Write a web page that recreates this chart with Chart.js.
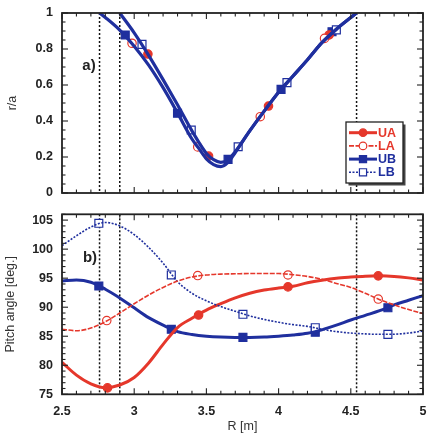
<!DOCTYPE html>
<html><head><meta charset="utf-8">
<script src="https://cdn.jsdelivr.net/npm/chart.js@4.4.1/dist/chart.umd.min.js"></script>
<style>
html,body{margin:0;padding:0;background:#fff;}
#wrap{position:relative;width:432px;height:434px;overflow:hidden;}
canvas{position:absolute;left:0;}
#c1{top:0;} #c2{top:205px;}
</style></head><body>
<div id="wrap"><canvas id="c1" width="432" height="205"></canvas><canvas id="c2" width="432" height="229"></canvas></div>
<script>
// ---------- DATA ----------
const seriesNames = ['UA', 'LA', 'UB', 'LB'];
const dottedR = [2.76, 2.9, 4.54];
const xTicks = [2.5, 3, 3.5, 4, 4.5, 5];
const topYTicks = [0, 0.2, 0.4, 0.6, 0.8, 1];
const botYTicks = [75, 80, 85, 90, 95, 100, 105];

// panel a) : r/a along the two sight-line paths
const topOuterR = [2.76, 2.8, 2.9, 3.0, 3.1, 3.2, 3.3, 3.4, 3.45, 3.5, 3.55, 3.6, 3.65, 3.7, 3.8, 3.9, 4.0, 4.1, 4.2, 4.3, 4.4, 4.5, 4.54];
const topOuterY = [1.0, 0.975, 0.905, 0.815, 0.71, 0.585, 0.445, 0.30, 0.245, 0.19, 0.158, 0.147, 0.17, 0.225, 0.345, 0.455, 0.56, 0.65, 0.74, 0.835, 0.91, 0.975, 1.0];
const topInnerR = [2.9, 3.0, 3.1, 3.2, 3.3, 3.4, 3.5, 3.55, 3.6, 3.65, 3.7, 3.8, 3.9, 4.0, 4.1, 4.2, 4.3, 4.4, 4.5, 4.54];
const topInnerY = [1.0, 0.89, 0.765, 0.63, 0.49, 0.345, 0.22, 0.185, 0.17, 0.185, 0.23, 0.345, 0.455, 0.56, 0.65, 0.74, 0.835, 0.91, 0.975, 1.0];

const topUAR = [3.095, 3.515, 3.93, 4.35];        const topUAY = [0.772, 0.205, 0.483, 0.878];
const topLAR = [2.985, 3.44, 3.873, 4.318];       const topLAY = [0.832, 0.256, 0.424, 0.859];
const topUBR = [2.938, 3.30, 3.65, 4.017, 4.37];  const topUBY = [0.878, 0.443, 0.187, 0.576, 0.896];
const topLBR = [3.054, 3.395, 3.72, 4.058, 4.40]; const topLBY = [0.826, 0.35, 0.257, 0.613, 0.906];

// panel b) : pitch angle [deg.]
const botR  = [2.5, 2.6, 2.7, 2.8, 2.9, 3.0, 3.1, 3.2, 3.3, 3.4, 3.5, 3.6, 3.7, 3.8, 3.9, 4.0, 4.1, 4.2, 4.3, 4.4, 4.5, 4.6, 4.7, 4.8, 4.9, 5.0];
const botUA = [80.5, 78.3, 76.8, 76.15, 76.6, 77.9, 80.4, 83.6, 86.5, 88.1, 89.5, 90.6, 91.6, 92.4, 92.95, 93.3, 93.6, 94.2, 94.65, 95.0, 95.2, 95.35, 95.4, 95.3, 95.05, 94.7];
const botLA = [86.2, 85.95, 86.4, 87.5, 89.0, 90.6, 92.1, 93.4, 94.5, 95.2, 95.55, 95.7, 95.75, 95.8, 95.8, 95.8, 95.6, 95.3, 94.8, 94.1, 93.4, 92.4, 91.3, 90.4, 89.6, 88.9];
const botUB = [94.5, 94.7, 94.3, 93.1, 91.6, 89.9, 88.2, 86.9, 85.8, 85.3, 85.0, 84.85, 84.8, 84.8, 84.85, 85.0, 85.2, 85.5, 86.1, 86.9, 87.8, 88.6, 89.4, 90.4, 91.2, 92.0];
const botLB = [100.6, 102.3, 103.8, 104.6, 104.0, 102.5, 100.3, 97.6, 94.4, 92.4, 91.1, 90.1, 89.3, 88.5, 87.9, 87.4, 87.0, 86.7, 86.2, 85.8, 85.55, 85.4, 85.33, 85.35, 85.55, 85.9];

const botUAR = [2.815, 3.446, 4.065, 4.69];        const botUAY = [76.1, 88.65, 93.5, 95.4];
const botLAR = [2.81, 3.44, 4.065, 4.69];          const botLAY = [87.7, 95.45, 95.55, 91.4];
const botUBR = [2.755, 3.257, 3.753, 4.254, 4.757]; const botUBY = [93.65, 86.2, 84.8, 85.68, 89.9];
const botLBR = [2.755, 3.257, 3.753, 4.254, 4.757]; const botLBY = [104.45, 95.55, 88.78, 86.47, 85.33];

// ---------- STYLE ----------
const RED = '#e5372b', BLUE = '#1f2f9e';
const FONT = 'Liberation Sans, Arial, Helvetica, sans-serif';
const sty = {
  UA: {color: RED,  width: 3,   dash: [],       point: 'circle', r: 4.2, fill: RED},
  LA: {color: RED,  width: 1.6, dash: [5, 1.5], point: 'circle', r: 4.2, fill: '#fff'},
  UB: {color: BLUE, width: 3,   dash: [],       point: 'rect',   r: 5.6, fill: BLUE},
  LB: {color: BLUE, width: 1.6, dash: [2, 1.5], point: 'rect',   r: 5.6, fill: '#fff'}
};
const zip = (a, b) => a.map((v, i) => ({x: v, y: b[i]}));
const fmt = v => String(+(+v).toFixed(3));

function lineDS(name, xs, ys, over) {
  const s = sty[name];
  return Object.assign({type: 'line', label: name, data: zip(xs, ys), borderColor: s.color, borderWidth: s.width,
    borderDash: s.dash, pointRadius: 0, cubicInterpolationMode: 'monotone', fill: false}, over || {});
}
function markDS(name, xs, ys) {
  const s = sty[name];
  return {type: 'scatter', label: name + ' pts', data: zip(xs, ys), showLine: false, pointStyle: s.point,
    pointRadius: s.r, backgroundColor: s.fill, borderColor: s.color, borderWidth: 1.2};
}

function dottedPlugin() {
  return {id: 'dotted', beforeDatasetsDraw(chart) {
    const {ctx, chartArea: a, scales: {x}} = chart;
    ctx.save(); ctx.strokeStyle = '#111'; ctx.lineWidth = 1.5; ctx.setLineDash([2, 2]);
    dottedR.forEach(r => { const p = x.getPixelForValue(r); ctx.beginPath(); ctx.moveTo(p, a.top); ctx.lineTo(p, a.bottom); ctx.stroke(); });
    ctx.restore();
  }};
}
function framePlugin(xMinor, xMajor, yMinor, yMajor) {
  return {id: 'frame', afterDatasetsDraw(chart) {
    const {ctx, chartArea: a, scales: {x, y}} = chart;
    ctx.save(); ctx.strokeStyle = '#222'; ctx.lineWidth = 1.1;
    const seg = (x1, y1, x2, y2) => { ctx.beginPath(); ctx.moveTo(x1, y1); ctx.lineTo(x2, y2); ctx.stroke(); };
    let n = Math.round((x.max - x.min) / xMinor);
    for (let i = 0; i <= n; i++) {
      const v = x.min + i * xMinor, p = x.getPixelForValue(v);
      const q = v / xMajor, L = Math.abs(q - Math.round(q)) < 1e-6 ? 6 : 3.5;
      seg(p, a.bottom, p, a.bottom - L); seg(p, a.top, p, a.top + L);
    }
    n = Math.round((y.max - y.min) / yMinor);
    for (let i = 0; i <= n; i++) {
      const v = y.min + i * yMinor, p = y.getPixelForValue(v);
      const q = v / yMajor, L = Math.abs(q - Math.round(q)) < 1e-6 ? 6 : 3.5;
      seg(a.left, p, a.left + L, p); seg(a.right, p, a.right - L, p);
    }
    ctx.lineWidth = 1.8; ctx.strokeRect(a.left, a.top, a.right - a.left, a.bottom - a.top);
    ctx.restore();
  }};
}
function textPlugin(txt, px, py) {
  return {id: 'ptext', afterDraw(chart) {
    const ctx = chart.ctx; ctx.save(); ctx.fillStyle = '#222'; ctx.font = 'bold 15px ' + FONT;
    ctx.textAlign = 'center'; ctx.textBaseline = 'middle'; ctx.fillText(txt, px, py); ctx.restore();
  }};
}
const legendPlugin = {id: 'lgd', afterDraw(chart) {
  const ctx = chart.ctx; ctx.save();
  const bx = 346, by = 122, bw = 57, bh = 61;
  ctx.fillStyle = '#444'; ctx.fillRect(bx + 2.5, by + 2.5, bw, bh);
  ctx.fillStyle = '#fff'; ctx.fillRect(bx, by, bw, bh);
  ctx.strokeStyle = '#222'; ctx.lineWidth = 1.3; ctx.strokeRect(bx, by, bw, bh);
  seriesNames.forEach((nm, i) => {
    const s = sty[nm], yy = by + 10.7 + i * 13.2;
    ctx.strokeStyle = s.color; ctx.lineWidth = s.width; ctx.setLineDash(s.dash);
    ctx.beginPath(); ctx.moveTo(bx + 3, yy); ctx.lineTo(bx + 31, yy); ctx.stroke(); ctx.setLineDash([]);
    ctx.fillStyle = s.fill; ctx.strokeStyle = s.color; ctx.lineWidth = 1.2;
    Chart.helpers.drawPoint(ctx, {pointStyle: s.point, rotation: 0, borderWidth: 1.2, radius: s.r * 0.9}, bx + 17, yy);
    ctx.fillStyle = s.color; ctx.font = 'bold 12.5px ' + FONT; ctx.textAlign = 'left'; ctx.textBaseline = 'middle';
    ctx.fillText(nm, bx + 32, yy + 0.5);
  });
  ctx.restore();
}};

// pin the plot area to the wanted pixel box (layout only)
function pinArea(chart, want) {
  for (let k = 0; k < 5; k++) {
    const a = chart.chartArea, p = chart.config.options.layout.padding;
    const dt = want.top - a.top, db = a.bottom - want.bottom, dl = want.left - a.left, dr = a.right - want.right;
    if (Math.abs(dt) + Math.abs(db) + Math.abs(dl) + Math.abs(dr) < 0.2) break;
    chart.config.options.layout.padding = {top: p.top + dt, bottom: p.bottom + db, left: p.left + dl, right: p.right + dr};
    chart.update('none');
  }
}

const tickFont = {family: FONT, size: 12.5, weight: 'bold'};
const titleFont = {family: FONT, size: 12.5, weight: 'normal'};
const setTicks = arr => s => { s.ticks = arr.map(v => ({value: v})); };
const hiddenGrid = len => ({display: false, drawTicks: true, tickLength: len});

// ---------- PANEL a ----------
const nRedTop = topInnerR.filter(r => r <= 3.6).length;
const chA = new Chart(document.getElementById('c1'), {
  type: 'line',
  data: {datasets: [
    lineDS('UB', topOuterR, topOuterY, {borderWidth: 3.2}),
    lineDS('LB', topInnerR, topInnerY, {borderWidth: 3.2, borderDash: []}),
    lineDS('UA', topInnerR.slice(0, nRedTop), topInnerY.slice(0, nRedTop), {borderWidth: 1, borderDash: [3, 2]}),
    markDS('LA', topLAR, topLAY), markDS('LB', topLBR, topLBY),
    markDS('UA', topUAR, topUAY), markDS('UB', topUBR, topUBY)
  ]},
  options: {
    responsive: false, animation: false, devicePixelRatio: 1, events: [],
    layout: {padding: {top: 13, right: 9, left: 0, bottom: 0}},
    plugins: {legend: {display: false}, tooltip: {enabled: false}},
    scales: {
      x: {type: 'linear', min: 2.5, max: 5, grid: {display: false, drawTicks: false}, border: {display: false},
          afterBuildTicks: setTicks(xTicks),
          ticks: {display: false, padding: 0}, afterFit: s => { s.height = 12; }},
      y: {type: 'linear', min: 0, max: 1, grid: hiddenGrid(9), border: {display: false},
          afterBuildTicks: setTicks(topYTicks),
          ticks: {font: tickFont, padding: 0, color: '#222', callback: fmt},
          title: {display: true, text: 'r/a', font: titleFont, color: '#333', padding: {top: 5, bottom: 0}},
          afterFit: s => { s.width = 62; }}
    }
  },
  plugins: [dottedPlugin(), framePlugin(0.1, 0.5, 0.05, 0.2), legendPlugin, textPlugin('a)', 89, 66)]
});
pinArea(chA, {left: 62, right: 423, top: 13, bottom: 193});

// ---------- PANEL b ----------
const chB = new Chart(document.getElementById('c2'), {
  type: 'line',
  data: {datasets: [
    lineDS('LA', botR, botLA), lineDS('LB', botR, botLB),
    lineDS('UA', botR, botUA), lineDS('UB', botR, botUB),
    markDS('LA', botLAR, botLAY), markDS('LB', botLBR, botLBY),
    markDS('UA', botUAR, botUAY), markDS('UB', botUBR, botUBY)
  ]},
  options: {
    responsive: false, animation: false, devicePixelRatio: 1, events: [],
    layout: {padding: {top: 9.3, right: 9, left: 0, bottom: 0}},
    plugins: {legend: {display: false}, tooltip: {enabled: false}},
    scales: {
      x: {type: 'linear', min: 2.5, max: 5, grid: hiddenGrid(10), border: {display: false},
          afterBuildTicks: setTicks(xTicks),
          ticks: {font: tickFont, padding: 0, color: '#222', maxRotation: 0, callback: fmt},
          title: {display: true, text: 'R [m]', font: titleFont, color: '#333', padding: {top: 0, bottom: 0}},
          afterFit: s => { s.height = 39.7; }},
      y: {type: 'linear', min: 75, max: 106, grid: hiddenGrid(9), border: {display: false},
          afterBuildTicks: setTicks(botYTicks),
          ticks: {font: tickFont, padding: 0, color: '#222', callback: fmt},
          title: {display: true, text: 'Pitch angle [deg.]', font: titleFont, color: '#333', padding: {top: 3, bottom: 0}},
          afterFit: s => { s.width = 62; }}
    }
  },
  plugins: [dottedPlugin(), framePlugin(0.1, 0.5, 1, 5), textPlugin('b)', 90, 53)]
});
pinArea(chB, {left: 62, right: 423, top: 9.3, bottom: 189.3});
</script>
</body></html>
